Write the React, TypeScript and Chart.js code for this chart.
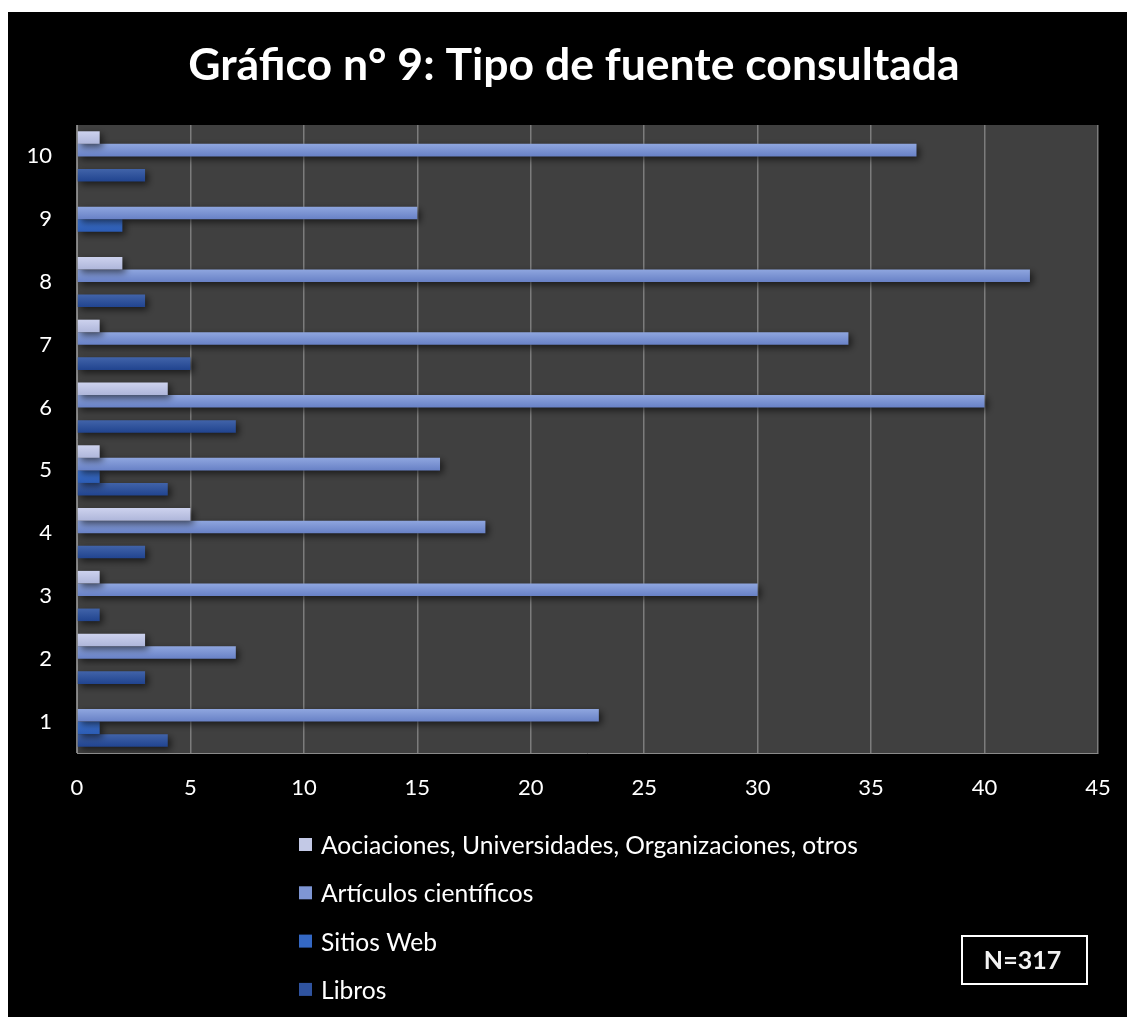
import React, { useEffect, useRef } from "react";
import { Chart, registerables } from "chart.js";

Chart.register(...registerables);

// ---- data ----
const titleText = "Gráfico n° 9: Tipo de fuente consultada";
const categories = ["1", "2", "3", "4", "5", "6", "7", "8", "9", "10"];
const seriesNames = [
  "Aociaciones, Universidades, Organizaciones, otros",
  "Artículos científicos",
  "Sitios Web",
  "Libros",
];
const asociaciones = [0, 3, 1, 5, 1, 4, 1, 2, 0, 1];
const articulos = [23, 7, 30, 18, 16, 40, 34, 42, 15, 37];
const sitiosWeb = [1, 0, 0, 0, 1, 0, 0, 0, 2, 0];
const libros = [4, 3, 1, 3, 4, 7, 5, 3, 0, 3];
const xMin = 0;
const xMax = 45;
const xStep = 5;

// ---- style ----
const FONT = "Lato, 'Open Sans', sans-serif";
const gradTops = ["#cdd2ee", "#8fa6df", "#3f74d0", "#4163a9"];
const gradBottoms = ["#aeb6da", "#6881c6", "#2b5bb3", "#21448f"];
const legendColors = ["#c3c9e6", "#7e96d4", "#3468c4", "#2f539f"];
const CAT_PCT = 0.8;
const W = 1119;
const H = 1005;
const AREA_LEFT = 69;
const AREA_RIGHT = 1090;
const AREA_TOP = 113;
const AREA_BOTTOM = 741;

function makeGradient(i: number) {
  return (c: any) => {
    const chart = c.chart;
    const y = chart && chart.scales ? chart.scales.y : null;
    if (!y || typeof c.dataIndex !== "number") return legendColors[i];
    const center = y.getPixelForValue(c.dataIndex);
    const step = Math.abs(y.getPixelForValue(1) - y.getPixelForValue(0));
    const group = step * CAT_PCT;
    const bar = group / 4;
    const t = center - group / 2 + bar * i;
    if (!isFinite(t) || !isFinite(bar) || bar <= 0) return legendColors[i];
    const g = chart.ctx.createLinearGradient(0, t, 0, t + bar);
    g.addColorStop(0, gradTops[i]);
    g.addColorStop(1, gradBottoms[i]);
    return g;
  };
}

const bgPlugin = {
  id: "bgPlugin",
  beforeDraw(chart: any) {
    const { ctx, chartArea: a, width, height } = chart;
    ctx.save();
    ctx.fillStyle = "#000";
    ctx.fillRect(0, 0, width, height);
    ctx.fillStyle = "#404040";
    ctx.fillRect(a.left, a.top, a.right - a.left, a.bottom - a.top);
    ctx.restore();
  },
};

const shadowPlugin = {
  id: "shadowPlugin",
  beforeDatasetsDraw(chart: any) {
    const c = chart.ctx;
    c.save();
    c.shadowColor = "rgba(0,0,0,0.6)";
    c.shadowBlur = 7;
    c.shadowOffsetX = 3;
    c.shadowOffsetY = 3;
  },
  afterDatasetsDraw(chart: any) {
    chart.ctx.restore();
  },
};

const titlePlugin = {
  id: "customTitle",
  afterDraw(chart: any) {
    const { ctx } = chart;
    ctx.save();
    ctx.font = `bold 44.5px ${FONT}`;
    ctx.textAlign = "center";
    ctx.textBaseline = "alphabetic";
    ctx.fillStyle = "#ffffff";
    ctx.fillText(titleText, 566, 68);
    ctx.restore();
  },
};

const legendPlugin = {
  id: "customLegend",
  afterDraw(chart: any) {
    const { ctx } = chart;
    ctx.save();
    ctx.font = `24.6px ${FONT}`;
    ctx.textBaseline = "middle";
    ctx.textAlign = "left";
    const x0 = 291;
    const y0 = 833;
    const stepY = 48.3;
    chart.data.datasets.forEach((ds: any, i: number) => {
      const cy = y0 + i * stepY;
      ctx.fillStyle = legendColors[i];
      ctx.fillRect(x0, cy - 7, 13, 13);
      ctx.fillStyle = "#ffffff";
      ctx.fillText(ds.label, x0 + 22, cy + 1);
    });
    // N box
    let total = 0;
    chart.data.datasets.forEach((ds: any) => ds.data.forEach((v: number) => (total += v)));
    const bx = 954, by = 924, bw = 125, bh = 48;
    ctx.strokeStyle = "#ffffff";
    ctx.lineWidth = 2;
    ctx.strokeRect(bx, by, bw, bh);
    ctx.font = `bold 25px ${FONT}`;
    ctx.textAlign = "center";
    ctx.fillStyle = "#f2f2f2";
    ctx.fillText(`N=${total}`, bx + bw / 2 - 2, by + bh / 2 + 1);
    ctx.restore();
  },
};

export default function App() {
  const ref = useRef<HTMLCanvasElement | null>(null);
  useEffect(() => {
    if (!ref.current) return;
    const seriesData = [asociaciones, articulos, sitiosWeb, libros];
    const padLeft = 8;
    const chart = new Chart(ref.current, {
      type: "bar",
      data: {
        labels: categories,
        datasets: seriesData.map((d, i) => ({
          label: seriesNames[i],
          data: d,
          backgroundColor: makeGradient(i),
          borderWidth: 0,
          categoryPercentage: CAT_PCT,
          barPercentage: 1,
        })),
      },
      options: {
        indexAxis: "y",
        animation: false,
        responsive: false,
        events: [],
        layout: {
          padding: { left: padLeft, right: W - AREA_RIGHT, top: AREA_TOP, bottom: 0 },
        },
        plugins: {
          legend: { display: false },
          tooltip: { enabled: false },
          title: { display: false },
        },
        scales: {
          x: {
            min: xMin,
            max: xMax,
            ticks: {
              stepSize: xStep,
              color: "#ffffff",
              font: { family: FONT, size: 22 },
              padding: 0,
              maxRotation: 0,
            },
            grid: {
              color: "#7c7c7c",
              lineWidth: 1.5,
              drawTicks: true,
              tickLength: 22,
              tickColor: "rgba(0,0,0,0)",
            },
            border: { display: true, color: "#8a8a8a", width: 1 },
            afterFit: (s: any) => {
              s.height = H - AREA_BOTTOM;
            },
          },
          y: {
            reverse: true,
            ticks: {
              color: "#ffffff",
              font: { family: FONT, size: 22 },
              padding: 25,
            },
            grid: { display: false, drawTicks: false },
            border: { display: true, color: "#8a8a8a", width: 1 },
            afterFit: (s: any) => {
              s.width = AREA_LEFT - padLeft;
            },
          },
        },
      },
      plugins: [bgPlugin, shadowPlugin, titlePlugin, legendPlugin],
    } as any);
    return () => chart.destroy();
  }, []);

  return (
    <div
      style={{
        position: "absolute",
        left: 8,
        top: 12,
        width: W,
        height: H,
        background: "#000",
      }}
    >
      <canvas ref={ref} width={W} height={H} style={{ display: "block" }} />
    </div>
  );
}
